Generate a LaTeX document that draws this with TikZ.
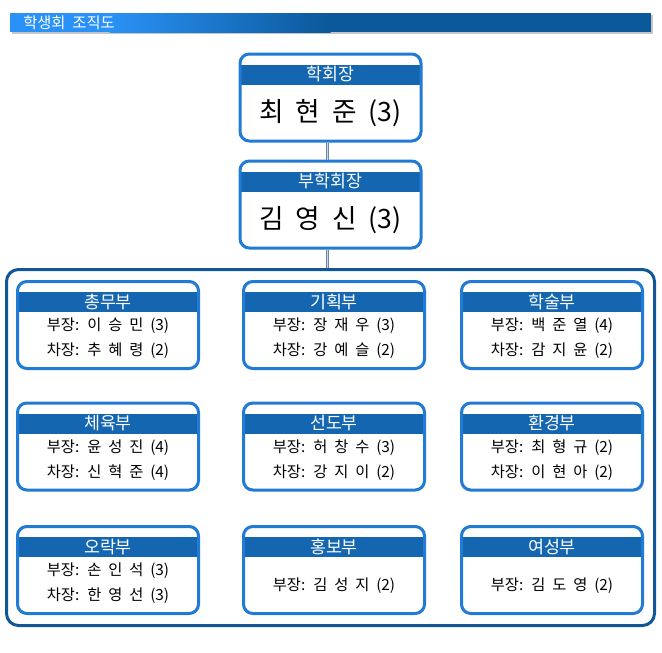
\documentclass[tikz,border=0pt]{standalone}
\usepackage{fontspec}
\setmainfont{Noto Sans CJK KR}[WordSpace=2]
\usepackage{tikz}
\usetikzlibrary{positioning, calc}
\definecolor{BoxBlue}{RGB}{33,122,212}
\definecolor{HeadBlue}{RGB}{20,102,176}
\definecolor{FrameBlue}{RGB}{17,86,150}
\definecolor{TitleLight}{RGB}{42,146,246}
\definecolor{TitleDark}{RGB}{11,88,154}
\definecolor{LinkGray}{RGB}{105,135,170}

\begin{document}
\begin{tikzpicture}[x=0.75pt, y=-0.75pt,
    unitbox/.style={draw=BoxBlue, line width=2.25pt, fill=white, rounded corners=7pt,
      minimum width=135.75pt, minimum height=65.25pt, inner sep=0pt,
      path picture={\fill[HeadBlue, sharp corners] ([yshift=-7.9pt]path picture bounding box.north west)
        rectangle ([yshift=-22.9pt]path picture bounding box.north east);}},
    headtext/.style={text=white, font=\fontsize{13}{15}\selectfont, inner sep=0pt},
    bigtext/.style={font=\fontsize{20}{24}\selectfont, inner sep=0pt},
    bodytext/.style={font=\fontsize{11.5}{18.75}\selectfont, align=center, inner sep=0pt},
    link/.style={draw=LinkGray, line width=0.8pt, double=LinkGray!35!white, double distance=0.7pt}]
  \useasboundingbox (0,0) rectangle (662,653);

  % Title bar
  \fill[gray!45] (11.5,15) rectangle (652.5,33.5);
  \fill[TitleLight] (10,13) rectangle (110,32);
  \shade[left color=TitleLight, right color=TitleDark] (109.5,13) rectangle (330.5,32);
  \fill[TitleDark] (330,13) rectangle (651,32);
  \node[anchor=west, text=white, font=\fontsize{11.5}{14}\selectfont, inner sep=0pt] (title) at (23,22.5) {학생회 조직도};

  % President and vice president
  \node[unitbox] (pres) at (330.5,97.5) {};
  \node[headtext] at ([yshift=-16.2pt]pres.north) {학회장};
  \node[bigtext] at ([yshift=-11.6pt]pres.center) {최 현 준 (3)};

  \node[unitbox] (vice) at (330.5,204.5) {};
  \node[headtext] at ([yshift=-16.2pt]vice.north) {부학회장};
  \node[bigtext] at ([yshift=-11.6pt]vice.center) {김 영 신 (3)};

  % Departments frame
  \node[draw=FrameBlue, line width=2.25pt, rounded corners=9pt, minimum width=486pt,
    minimum height=267pt, inner sep=0pt] (council) at (330.5,447.5) {};

  % Connectors
  \draw[link] ([xshift=-2.6pt]pres.south) -- ([xshift=-2.6pt]vice.north);
  \draw[link] ([xshift=-2.6pt]vice.south) -- ([xshift=-2.6pt]vice.south |- council.north);

  % Row 1
  \node[unitbox] (chongmu) at (108,325) {};
  \node[headtext] at ([yshift=-16.2pt]chongmu.north) {총무부};
  \node[bodytext] at ([yshift=-10.1pt]chongmu.center) {부장: 이 승 민 (3)\\차장: 추 혜 령 (2)};

  \node[unitbox] (gihoek) at (334,325) {};
  \node[headtext] at ([yshift=-16.2pt]gihoek.north) {기획부};
  \node[bodytext] at ([yshift=-10.1pt]gihoek.center) {부장: 장 재 우 (3)\\차장: 강 예 슬 (2)};

  \node[unitbox] (haksul) at (552,325) {};
  \node[headtext] at ([yshift=-16.2pt]haksul.north) {학술부};
  \node[bodytext] at ([yshift=-10.1pt]haksul.center) {부장: 백 준 열 (4)\\차장: 감 지 윤 (2)};

  % Row 2
  \node[unitbox] (cheyuk) at (108,446.5) {};
  \node[headtext] at ([yshift=-16.2pt]cheyuk.north) {체육부};
  \node[bodytext] at ([yshift=-10.1pt]cheyuk.center) {부장: 윤 성 진 (4)\\차장: 신 혁 준 (4)};

  \node[unitbox] (seondo) at (334,446.5) {};
  \node[headtext] at ([yshift=-16.2pt]seondo.north) {선도부};
  \node[bodytext] at ([yshift=-10.1pt]seondo.center) {부장: 허 창 수 (3)\\차장: 강 지 이 (2)};

  \node[unitbox] (hwangyeong) at (552,446.5) {};
  \node[headtext] at ([yshift=-16.2pt]hwangyeong.north) {환경부};
  \node[bodytext] at ([yshift=-10.1pt]hwangyeong.center) {부장: 최 형 규 (2)\\차장: 이 현 아 (2)};

  % Row 3
  \node[unitbox] (orak) at (108,570) {};
  \node[headtext] at ([yshift=-16.2pt]orak.north) {오락부};
  \node[bodytext] at ([yshift=-10.1pt]orak.center) {부장: 손 인 석 (3)\\차장: 한 영 선 (3)};

  \node[unitbox] (hongbo) at (334,570) {};
  \node[headtext] at ([yshift=-16.2pt]hongbo.north) {홍보부};
  \node[bodytext] at ([yshift=-12pt]hongbo.center) {부장: 김 성 지 (2)};

  \node[unitbox] (yeoseong) at (552,570) {};
  \node[headtext] at ([yshift=-16.2pt]yeoseong.north) {여성부};
  \node[bodytext] at ([yshift=-12pt]yeoseong.center) {부장: 김 도 영 (2)};
\end{tikzpicture}
\end{document}
